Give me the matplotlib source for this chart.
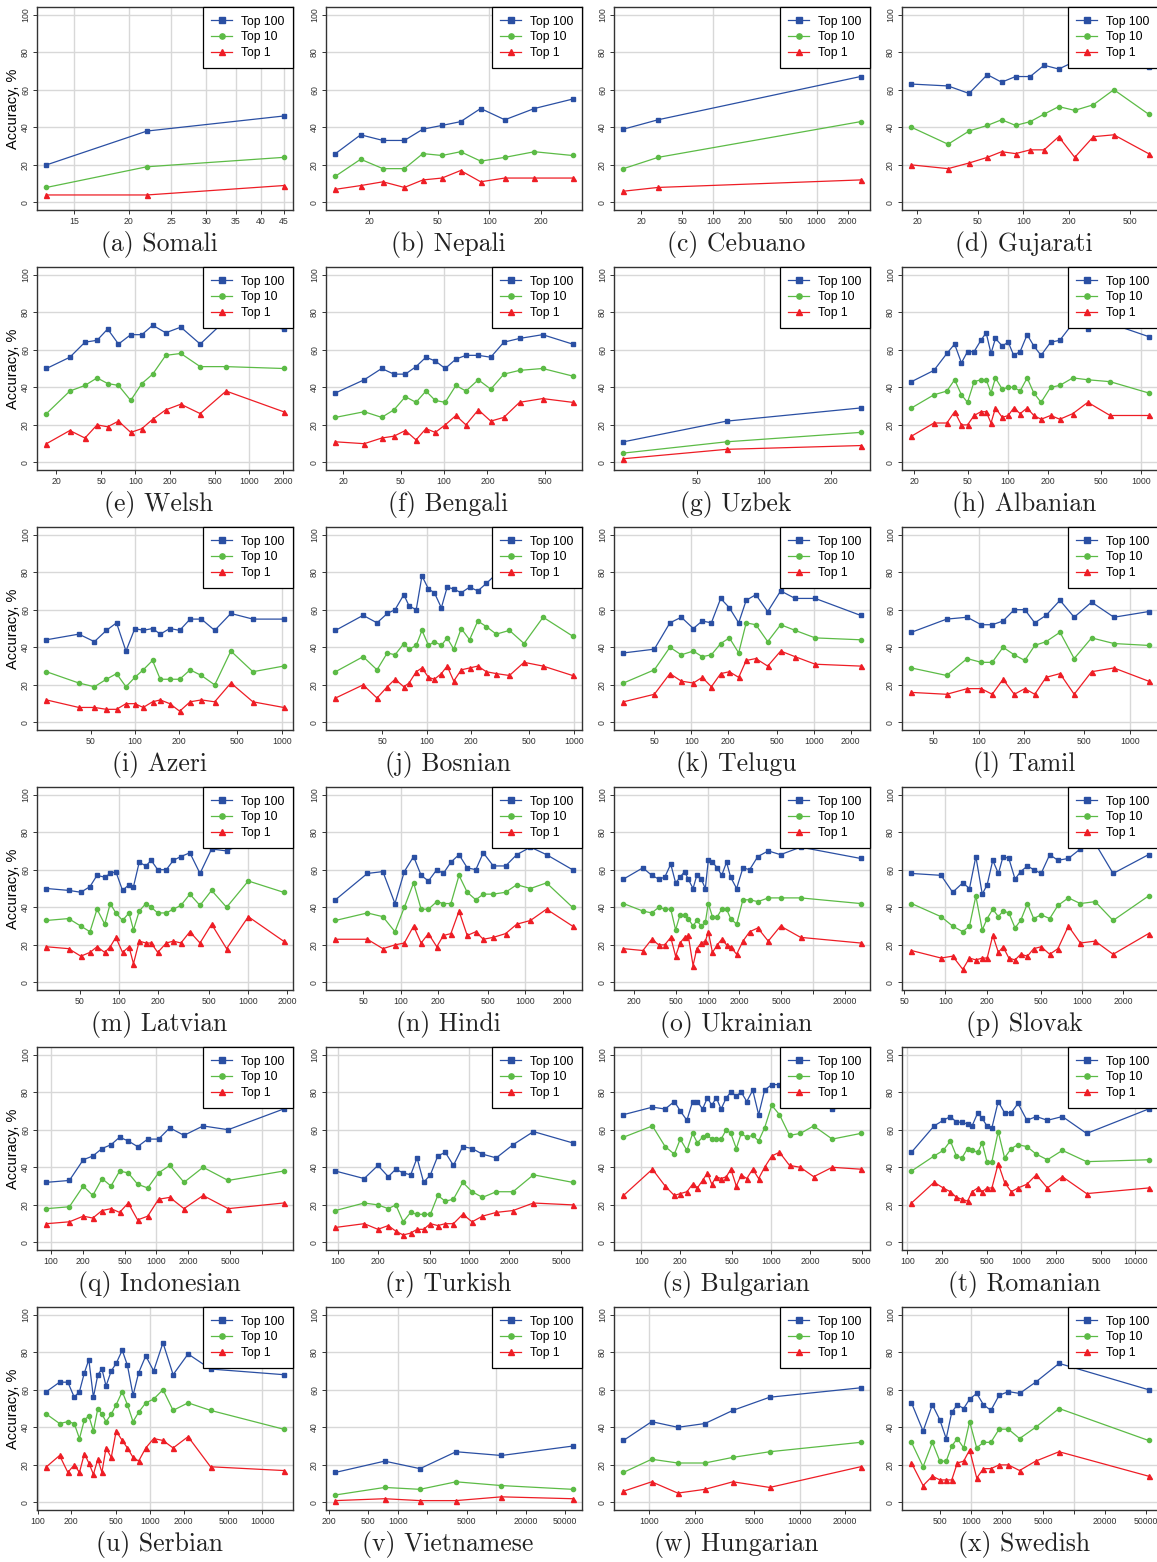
import matplotlib
matplotlib.use("Agg")
import matplotlib.pyplot as plt
from matplotlib.lines import Line2D
import numpy as np

plt.rcParams['font.family'] = ['Liberation Sans', 'DejaVu Sans']

# ---- data: dictionary size (x, log scale) and accuracy in % ----
somali_n = [13, 22, 45]
somali_top100 = [20, 38, 46]
somali_top10 = [8, 19, 24]
somali_top1 = [4, 4, 9]
somali_ticks = [15, 20, 25, 30, 35, 40, 45]

nepali_n = [12.7, 17.8, 24, 32, 41, 53, 68, 89, 123, 183, 305]
nepali_top100 = [26, 36, 33, 33, 39, 41, 43, 50, 44, 50, 55]
nepali_top10 = [14, 23, 18, 18, 26, 25, 27, 22, 24, 27, 25]
nepali_top1 = [7, 9, 11, 8, 12, 13, 17, 11, 13, 13, 13]
nepali_ticks = [20, 50, 100, 200]

cebuano_n = [13.4, 29, 2670]
cebuano_top100 = [39, 44, 67]
cebuano_top10 = [18, 24, 43]
cebuano_top1 = [6, 8, 12]
cebuano_ticks = [20, 50, 100, 200, 500, 1000, 2000]

gujarati_n = [18.4, 32, 44, 58, 72, 89, 111, 137, 171, 218, 289, 394, 666]
gujarati_top100 = [63, 62, 58, 68, 64, 67, 67, 73, 71, 75, 76, 78, 72]
gujarati_top10 = [40, 31, 38, 41, 44, 41, 43, 47, 51, 49, 52, 60, 47]
gujarati_top1 = [20, 18, 21, 24, 27, 26, 28, 28, 35, 24, 35, 36, 26]
gujarati_ticks = [20, 50, 100, 200, 500]

welsh_n = [16.5, 26.5, 36, 46, 57, 71, 91, 114, 142, 185, 251, 372, 629, 2013]
welsh_top100 = [50, 56, 64, 65, 71, 63, 68, 68, 73, 69, 72, 63, 76, 71]
welsh_top10 = [26, 38, 41, 45, 42, 41, 33, 42, 47, 57, 58, 51, 51, 50]
welsh_top1 = [10, 17, 13, 20, 19, 22, 16, 18, 23, 28, 31, 26, 38, 27]
welsh_ticks = [20, 50, 100, 200, 500, 1000, 2000]

bengali_n = [17.7, 28, 37, 45, 54, 64, 75, 87, 102, 121, 142, 173, 211, 260, 334, 483, 778]
bengali_top100 = [37, 44, 50, 47, 47, 51, 56, 54, 50, 55, 57, 57, 56, 64, 66, 68, 63]
bengali_top10 = [24, 27, 24, 28, 35, 32, 38, 33, 32, 41, 38, 44, 39, 47, 49, 50, 46]
bengali_top1 = [11, 10, 13, 14, 17, 12, 18, 16, 20, 25, 20, 28, 22, 24, 32, 34, 32]
bengali_ticks = [20, 50, 100, 200, 500]

uzbek_n = [23.5, 68, 270]
uzbek_top100 = [11, 22, 29]
uzbek_top10 = [5, 11, 16]
uzbek_top1 = [2, 7, 9]
uzbek_ticks = [50, 100, 200]

albanian_n = [19, 28, 35, 40, 45, 50, 56, 63, 69, 75, 81, 91, 101, 111, 124, 140,
              157, 178, 210, 246, 308, 399, 586, 1138]
albanian_top100 = [43, 49, 58, 63, 53, 59, 59, 65, 69, 58, 66, 62, 64, 57, 59, 68,
                   62, 57, 64, 65, 74, 71, 74, 67]
albanian_top10 = [29, 36, 38, 44, 36, 32, 43, 44, 44, 37, 45, 39, 40, 40, 38, 45,
                  37, 32, 40, 41, 45, 44, 43, 37]
albanian_top1 = [14, 21, 21, 27, 20, 20, 25, 27, 27, 21, 29, 24, 25, 29, 26, 29,
                 25, 23, 25, 23, 26, 32, 25, 25]
albanian_ticks = [20, 50, 100, 200, 500, 1000]

azeri_n = [25, 41.5, 53, 64, 75, 87, 100, 114, 132, 149, 173, 202, 238, 284, 350, 451, 637, 1030]
azeri_top100 = [44, 47, 43, 49, 53, 38, 50, 49, 50, 47, 50, 49, 55, 55, 49, 58, 55, 55]
azeri_top10 = [27, 21, 19, 23, 26, 19, 24, 28, 33, 23, 23, 23, 28, 25, 20, 38, 27, 30]
azeri_top1 = [12, 8, 8, 7, 7, 10, 10, 8, 11, 12, 10, 6, 11, 12, 11, 21, 11, 8]
azeri_ticks = [50, 100, 200, 500, 1000]

bosnian_n = [24, 37, 46, 54, 61, 70, 76, 85, 93, 103, 113, 126, 138, 153, 172, 196,
             223, 255, 298, 366, 460, 620, 983]
bosnian_top100 = [49, 57, 53, 58, 60, 68, 62, 60, 78, 71, 69, 61, 72, 71, 69, 72,
                  70, 74, 79, 80, 81, 83, 80]
bosnian_top10 = [27, 35, 28, 37, 36, 42, 39, 41, 49, 41, 43, 41, 45, 39, 50, 44,
                 54, 51, 47, 49, 42, 56, 46]
bosnian_top1 = [13, 20, 13, 19, 23, 19, 21, 27, 29, 24, 23, 26, 30, 22, 28, 29,
                30, 27, 26, 25, 32, 30, 25]
bosnian_ticks = [50, 100, 200, 500, 1000]

telugu_n = [28, 50, 67, 83, 104, 123, 146, 174, 205, 244, 281, 337, 421, 537, 705, 1028, 2409]
telugu_top100 = [37, 39, 53, 56, 50, 54, 53, 66, 61, 53, 65, 68, 59, 70, 66, 66, 57]
telugu_top10 = [21, 28, 40, 36, 38, 35, 36, 42, 45, 37, 53, 52, 43, 52, 49, 45, 44]
telugu_top1 = [11, 15, 26, 22, 21, 24, 19, 26, 27, 24, 33, 34, 30, 38, 35, 31, 30]
telugu_ticks = [50, 100, 200, 500, 1000, 2000]

tamil_n = [36, 61.5, 84, 104, 123, 145, 172, 202, 235, 279, 345, 428, 558, 784, 1327]
tamil_top100 = [48, 55, 56, 52, 52, 54, 60, 60, 53, 57, 65, 56, 64, 56, 59]
tamil_top10 = [29, 25, 34, 32, 32, 40, 36, 33, 41, 43, 48, 34, 45, 42, 41]
tamil_top1 = [16, 15, 18, 18, 15, 23, 15, 18, 15, 24, 26, 15, 27, 29, 22]
tamil_ticks = [50, 100, 200, 500, 1000]

latvian_n = [27.7, 41, 51, 60, 68, 78, 86, 95, 107, 120, 130, 144, 162, 178, 200, 233,
             264, 302, 354, 424, 521, 680, 1000, 1870]
latvian_top100 = [50, 49, 48, 51, 57, 56, 58, 59, 49, 52, 51, 64, 62, 65, 60, 60,
                  65, 67, 69, 58, 71, 70, 75, 76]
latvian_top10 = [33, 34, 30, 27, 39, 31, 42, 37, 33, 37, 28, 38, 42, 40, 37, 37,
                 39, 41, 47, 41, 49, 40, 54, 48]
latvian_top1 = [19, 18, 14, 16, 19, 16, 19, 24, 16, 19, 10, 22, 21, 21, 16, 21,
                22, 21, 27, 21, 31, 18, 35, 22]
latvian_ticks = [50, 100, 200, 500, 1000, 2000]

hindi_n = [30, 54, 72, 90, 107, 127, 146, 167, 195, 220, 253, 294, 342, 401, 460, 554,
           695, 854, 1101, 1480, 2393]
hindi_top100 = [44, 58, 59, 42, 59, 67, 57, 54, 60, 58, 64, 68, 61, 60, 69, 62, 62, 68, 72, 68, 60]
hindi_top10 = [33, 37, 35, 27, 40, 53, 39, 39, 43, 42, 42, 57, 48, 44, 47, 47, 48, 52, 50, 53, 40]
hindi_top1 = [23, 23, 18, 20, 21, 30, 21, 26, 19, 25, 26, 38, 25, 27, 23, 24, 26, 31, 33, 39, 30]
hindi_ticks = [50, 100, 200, 500, 1000, 2000]

ukrainian_n = [159, 243, 295, 344, 392, 447, 497, 548, 604, 655, 728, 790, 871, 952,
               1016, 1112, 1236, 1362, 1514, 1656, 1887, 2166, 2507, 3000, 3767, 4927,
               7645, 28330]
ukrainian_top100 = [55, 61, 57, 55, 56, 63, 53, 56, 59, 55, 50, 57, 55, 50,
                    65, 64, 61, 57, 64, 56, 50, 61, 60, 67, 70, 68, 72, 66]
ukrainian_top10 = [42, 38, 37, 40, 39, 39, 28, 36, 36, 34, 30, 33, 30, 32,
                   42, 35, 35, 39, 39, 34, 31, 44, 44, 43, 45, 45, 45, 42]
ukrainian_top1 = [18, 17, 23, 20, 20, 24, 14, 21, 24, 25, 9, 18, 21, 22,
                  27, 16, 20, 23, 20, 19, 15, 22, 27, 29, 22, 30, 24, 21]
ukrainian_ticks = [200, 500, 1000, 2000, 5000, 10000, 20000]
ukrainian_labels = ["200", "500", "1000", "2000", "5000", "", "20000"]

slovak_n = [56.5, 93, 113, 134, 150, 167, 186, 202, 222, 244, 264, 291, 323, 355, 398,
            442, 501, 579, 665, 793, 969, 1245, 1683, 3055]
slovak_top100 = [58, 57, 48, 53, 50, 67, 47, 52, 65, 58, 67, 66, 55, 59, 62,
                 60, 58, 68, 65, 66, 71, 74, 58, 68]
slovak_top10 = [42, 35, 30, 27, 30, 46, 28, 34, 39, 35, 38, 37, 29, 33, 42,
                34, 36, 34, 41, 45, 42, 43, 33, 46]
slovak_top1 = [17, 13, 14, 7, 13, 12, 13, 13, 25, 16, 19, 13, 12, 15, 14,
               18, 19, 15, 18, 30, 21, 22, 15, 26]
slovak_ticks = [50, 100, 200, 500, 1000, 2000]

indonesian_n = [91, 150, 203, 250, 306, 372, 449, 542, 665, 829, 1050, 1342, 1830, 2775, 4795, 16060]
indonesian_top100 = [32, 33, 44, 46, 50, 52, 56, 54, 51, 55, 55, 61, 57, 62, 60, 71]
indonesian_top10 = [18, 19, 30, 25, 34, 30, 38, 37, 31, 29, 37, 41, 32, 40, 33, 38]
indonesian_top1 = [10, 11, 14, 13, 17, 18, 16, 21, 12, 14, 23, 24, 18, 25, 18, 21]
indonesian_ticks = [100, 200, 500, 1000, 2000, 5000, 10000, 20000]
indonesian_labels = ["100", "200", "500", "1000", "2000", "5000", "", "20000"]

turkish_n = [95.5, 158, 201, 241, 275, 313, 357, 399, 448, 504, 574, 654, 755, 889,
             1047, 1256, 1599, 2145, 3070, 6090]
turkish_top100 = [38, 34, 41, 35, 39, 37, 36, 45, 32, 36, 46, 48, 41, 51, 50, 47, 45, 52, 59, 53]
turkish_top10 = [17, 21, 20, 18, 20, 11, 16, 15, 15, 15, 25, 22, 23, 32, 27, 24, 27, 27, 36, 32]
turkish_top1 = [8, 10, 7, 9, 6, 4, 5, 7, 7, 10, 9, 10, 10, 15, 11, 14, 16, 17, 21, 20]
turkish_ticks = [100, 200, 500, 1000, 2000, 5000]

bulgarian_n = [73, 122, 153, 180, 200, 225, 249, 271, 297, 324, 350, 379, 413, 453,
               491, 541, 590, 651, 724, 804, 894, 1014, 1164, 1391, 1684, 2136, 2970, 4905]
bulgarian_top100 = [68, 72, 71, 75, 70, 65, 75, 75, 71, 77, 73, 77, 71, 77,
                    80, 78, 80, 75, 81, 68, 81, 84, 84, 82, 78, 76, 71, 73]
bulgarian_top10 = [56, 62, 51, 47, 55, 49, 58, 53, 56, 57, 55, 55, 55, 60,
                   58, 50, 58, 56, 57, 54, 61, 73, 68, 57, 58, 62, 55, 58]
bulgarian_top1 = [25, 39, 30, 25, 26, 27, 31, 29, 33, 37, 31, 35, 34, 35,
                  39, 30, 36, 34, 39, 34, 40, 46, 48, 41, 40, 35, 40, 39]
bulgarian_ticks = [100, 200, 500, 1000, 2000, 5000]

romanian_n = [109, 172, 207, 239, 270, 302, 338, 370, 415, 454, 500, 552, 627, 713,
              816, 935, 1119, 1351, 1693, 2288, 3732, 13010]
romanian_top100 = [48, 62, 65, 67, 64, 64, 63, 62, 69, 66, 62, 61, 75, 69, 69, 74, 65, 67, 65, 67, 58, 71]
romanian_top10 = [38, 46, 49, 54, 46, 45, 50, 49, 48, 53, 43, 43, 59, 45, 50, 52, 51, 47, 44, 49, 43, 44]
romanian_top1 = [21, 32, 29, 27, 24, 23, 22, 27, 29, 27, 29, 29, 42, 32, 27, 29, 31, 36, 29, 35, 26, 29]
romanian_ticks = [100, 200, 500, 1000, 2000, 5000, 10000]

serbian_n = [120, 157, 186, 212, 236, 261, 286, 314, 344, 374, 407, 453, 501, 567, 631,
             708, 794, 919, 1080, 1308, 1610, 2188, 3467, 15490]
serbian_top100 = [59, 64, 64, 56, 59, 69, 76, 56, 68, 71, 62, 70, 74, 81, 73,
                  57, 69, 78, 70, 85, 68, 79, 71, 68]
serbian_top10 = [47, 42, 43, 42, 34, 44, 46, 38, 50, 47, 43, 47, 52, 59, 52,
                 43, 48, 53, 55, 60, 49, 53, 49, 39]
serbian_top1 = [19, 25, 16, 20, 16, 26, 21, 15, 23, 16, 29, 24, 38, 33, 29,
                24, 22, 29, 34, 33, 29, 35, 19, 17]
serbian_ticks = [100, 200, 500, 1000, 2000, 5000, 10000]

vietnamese_n = [234, 738, 1684, 3910, 11290, 59400]
vietnamese_top100 = [16, 22, 18, 27, 25, 30]
vietnamese_top10 = [4, 8, 7, 11, 9, 7]
vietnamese_top1 = [1, 2, 1, 1, 3, 2]
vietnamese_ticks = [200, 500, 1000, 2000, 5000, 10000, 20000, 50000]
vietnamese_labels = ["200", "500", "1000", "", "5000", "", "20000", "50000"]

hungarian_n = [676, 1040, 1549, 2346, 3594, 6310, 25250]
hungarian_top100 = [33, 43, 40, 42, 49, 56, 61]
hungarian_top10 = [16, 23, 21, 21, 24, 27, 32]
hungarian_top1 = [6, 11, 5, 7, 11, 8, 19]
hungarian_ticks = [1000, 2000, 5000, 10000, 20000]

swedish_n = [263, 341, 420, 496, 572, 648, 734, 846, 967, 1133, 1317, 1556, 1869, 2303,
             2958, 4236, 7164, 53050]
swedish_top100 = [53, 38, 52, 44, 34, 48, 52, 50, 55, 58, 52, 49, 57, 59, 58, 64, 74, 60]
swedish_top10 = [32, 19, 32, 22, 22, 30, 34, 29, 43, 29, 32, 32, 39, 39, 34, 40, 50, 33]
swedish_top1 = [21, 9, 14, 12, 12, 12, 21, 22, 28, 13, 18, 18, 20, 20, 17, 22, 27, 14]
swedish_ticks = [500, 1000, 2000, 5000, 10000, 20000, 50000]
swedish_labels = ["500", "1000", "2000", "5000", "", "20000", "50000"]

series_names = ["Top 100", "Top 10", "Top 1"]

panels = [
    ("(a) Somali", somali_n, somali_top100, somali_top10, somali_top1, somali_ticks, None),
    ("(b) Nepali", nepali_n, nepali_top100, nepali_top10, nepali_top1, nepali_ticks, None),
    ("(c) Cebuano", cebuano_n, cebuano_top100, cebuano_top10, cebuano_top1, cebuano_ticks, None),
    ("(d) Gujarati", gujarati_n, gujarati_top100, gujarati_top10, gujarati_top1, gujarati_ticks, None),
    ("(e) Welsh", welsh_n, welsh_top100, welsh_top10, welsh_top1, welsh_ticks, None),
    ("(f) Bengali", bengali_n, bengali_top100, bengali_top10, bengali_top1, bengali_ticks, None),
    ("(g) Uzbek", uzbek_n, uzbek_top100, uzbek_top10, uzbek_top1, uzbek_ticks, None),
    ("(h) Albanian", albanian_n, albanian_top100, albanian_top10, albanian_top1, albanian_ticks, None),
    ("(i) Azeri", azeri_n, azeri_top100, azeri_top10, azeri_top1, azeri_ticks, None),
    ("(j) Bosnian", bosnian_n, bosnian_top100, bosnian_top10, bosnian_top1, bosnian_ticks, None),
    ("(k) Telugu", telugu_n, telugu_top100, telugu_top10, telugu_top1, telugu_ticks, None),
    ("(l) Tamil", tamil_n, tamil_top100, tamil_top10, tamil_top1, tamil_ticks, None),
    ("(m) Latvian", latvian_n, latvian_top100, latvian_top10, latvian_top1, latvian_ticks, None),
    ("(n) Hindi", hindi_n, hindi_top100, hindi_top10, hindi_top1, hindi_ticks, None),
    ("(o) Ukrainian", ukrainian_n, ukrainian_top100, ukrainian_top10, ukrainian_top1, ukrainian_ticks, ukrainian_labels),
    ("(p) Slovak", slovak_n, slovak_top100, slovak_top10, slovak_top1, slovak_ticks, None),
    ("(q) Indonesian", indonesian_n, indonesian_top100, indonesian_top10, indonesian_top1, indonesian_ticks, indonesian_labels),
    ("(r) Turkish", turkish_n, turkish_top100, turkish_top10, turkish_top1, turkish_ticks, None),
    ("(s) Bulgarian", bulgarian_n, bulgarian_top100, bulgarian_top10, bulgarian_top1, bulgarian_ticks, None),
    ("(t) Romanian", romanian_n, romanian_top100, romanian_top10, romanian_top1, romanian_ticks, None),
    ("(u) Serbian", serbian_n, serbian_top100, serbian_top10, serbian_top1, serbian_ticks, None),
    ("(v) Vietnamese", vietnamese_n, vietnamese_top100, vietnamese_top10, vietnamese_top1, vietnamese_ticks, vietnamese_labels),
    ("(w) Hungarian", hungarian_n, hungarian_top100, hungarian_top10, hungarian_top1, hungarian_ticks, None),
    ("(x) Swedish", swedish_n, swedish_top100, swedish_top10, swedish_top1, swedish_ticks, swedish_labels),
]

# styles
colors = ["#2a4fa3", "#5cbb46", "#ee1d25"]
markers = ["s", "o", "^"]
msizes = [3.4, 3.0, 3.6]
grid_c = "#d8d8d8"
frame_c = "#333333"

W, H = 1157, 1562
col_left = [37, 326, 614, 902]
row_top = [7, 267, 527, 787, 1047, 1307]
ax_w, ax_h = 256, 203

fig = plt.figure(figsize=(W / 100, H / 100), dpi=100)

for i, (title, n, t100, t10, t1, ticks, labels) in enumerate(panels):
    r, c = divmod(i, 4)
    ax = fig.add_axes([col_left[c] / W, 1 - (row_top[r] + ax_h) / H, ax_w / W, ax_h / H])
    ax.set_xscale("log")
    for ys, col, mk, ms in zip([t100, t10, t1], colors, markers, msizes):
        ax.plot(n, ys, color=col, marker=mk, markersize=ms, linewidth=0.9, zorder=3)
    ax.margins(x=0.04)
    ax.set_ylim(-4, 104)
    x0, x1 = ax.get_xlim()

    # grid: horizontal at y ticks, vertical at decades (or ticks if none in range)
    for yv in range(0, 101, 20):
        ax.axhline(yv, color=grid_c, lw=1.0, zorder=1)
    decades = [10 ** k for k in range(0, 6) if x0 <= 10 ** k <= x1]
    if not decades:
        decades = ticks
    for xv in decades:
        ax.axvline(xv, color=grid_c, lw=1.0, zorder=1)

    ax.xaxis.set_minor_locator(matplotlib.ticker.NullLocator())
    ax.set_xticks(ticks)
    ax.set_xticklabels(labels if labels is not None else [str(t) for t in ticks])
    ax.set_xlim(x0, x1)
    ax.set_yticks(range(0, 101, 20))
    ax.set_yticklabels([str(v) for v in range(0, 101, 20)], rotation=90, va="center")
    ax.tick_params(axis="both", labelsize=6.3, length=3, width=0.7,
                   colors=frame_c, pad=2)
    for sp in ax.spines.values():
        sp.set_color(frame_c)
        sp.set_linewidth(1.0)

    if c == 0:
        ax.set_ylabel("Accuracy, %", fontsize=10.5, labelpad=1)

    handles = [Line2D([], [], color=col, marker=mk, markersize=ms + 0.8, linewidth=0.9)
               for col, mk, ms in zip(colors, markers, msizes)]
    leg = ax.legend(handles, series_names, loc="upper right", borderaxespad=0,
                    fontsize=8.7, frameon=True, fancybox=False, framealpha=1,
                    edgecolor="black", handlelength=1.7, handletextpad=0.75,
                    labelspacing=0.3, borderpad=0.72)
    leg.get_frame().set_linewidth(0.9)
    leg.set_zorder(5)

    fig.text((col_left[c] + ax_w / 2 - 6) / W, 1 - (row_top[r] + 238) / H, title,
             ha="center", va="center", fontfamily="cmr10", fontsize=18.5, color="#222222")

fig.savefig("out.png", dpi=100)
